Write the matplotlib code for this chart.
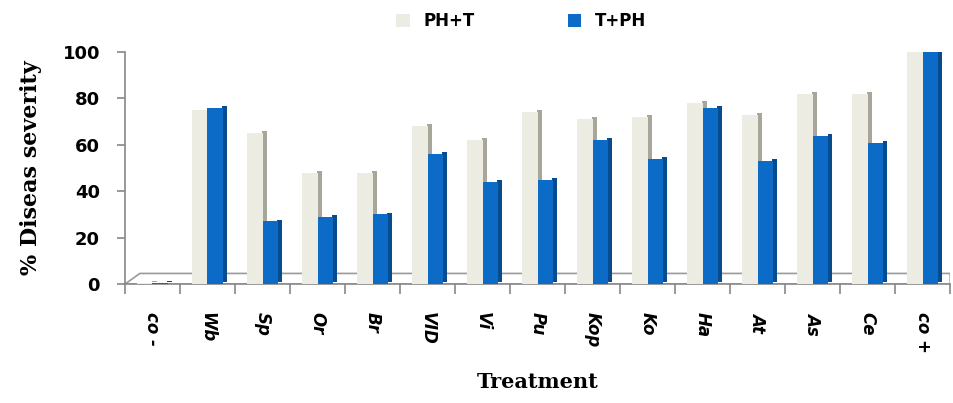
import numpy as np
import matplotlib
matplotlib.use('Agg')
from matplotlib import pyplot as plt
from matplotlib.patches import Polygon

treatments = ['co -', 'Wb', 'Sp', 'Or', 'Br', 'VID', 'Vi', 'Pu', 'Kop', 'Ko', 'Ha', 'At', 'As', 'Ce', 'co +']
ph_t = [0.5, 75, 65, 48, 48, 68, 62, 74, 71, 72, 78, 73, 82, 82, 100]
t_ph = [0.5, 76, 27, 29, 30, 56, 44, 45, 62, 54, 76, 53, 64, 61, 100]

# colours: front face / side face
c_ph = '#EDECE3'
c_ph_side = '#A8A599'
c_t = '#0B6BC6'
c_t_side = '#074C8F'

fig = plt.figure(figsize=(9.54, 4.03), dpi=100)
ax = fig.add_axes([0.131, 0.295, 0.865, 0.576])

x = np.arange(len(treatments))
w = 0.28
d = 0.09  # depth of side face
lift = 0.8  # side face shifted up a little (fake 3d)

# floor of the 3d plot
floor = Polygon([[-0.5, 0], [-0.23, 4.6], [len(x) - 0.5, 4.6], [len(x) - 0.5, 0]],
                closed=True, facecolor='white', edgecolor='#9A9A9A', lw=1.2, zorder=1)
ax.add_patch(floor)

# side faces first, then front faces
ax.bar(x + d / 2 - 0.01, ph_t, width=d, bottom=lift, color=c_ph_side, zorder=2)
ax.bar(x - w / 2, ph_t, width=w, color=c_ph, zorder=3)
ax.bar(x + w + d / 2 - 0.01, t_ph, width=d, bottom=lift, color=c_t_side, zorder=4)
ax.bar(x + w / 2, t_ph, width=w, color=c_t, zorder=5, label='T+PH')

# legend handles
ax.bar([0], [0], color=c_ph, label='PH+T')
h, l = ax.get_legend_handles_labels()
leg = ax.legend([h[1], h[0]], ['PH+T', 'T+PH'], loc='lower center', bbox_to_anchor=(0.48, 1.03),
                ncol=2, frameon=False, handlelength=0.8, handleheight=0.8, columnspacing=5.6,
                prop={'family': 'DejaVu Sans', 'weight': 'bold', 'size': 12})

ax.set_xlim(-0.5, len(x) - 0.5)
ax.set_ylim(0, 100)
ax.set_yticks([0, 20, 40, 60, 80, 100])
ax.tick_params(axis='y', labelsize=13, length=6, color='#888888', width=1.2, pad=12)
for t in ax.get_yticklabels():
    t.set_fontweight('bold')

ax.set_xticks(x)
ax.set_xticklabels(treatments, rotation=270, fontsize=12, fontweight='bold', style='italic')
ax.tick_params(axis='x', length=0, pad=20)
ax.set_xticks(np.arange(len(x) + 1) - 0.5, minor=True)
ax.tick_params(axis='x', which='minor', length=7, color='#888888', width=1.2)

for s in ['top', 'right']:
    ax.spines[s].set_visible(False)
for s in ['left', 'bottom']:
    ax.spines[s].set_color('#888888')
    ax.spines[s].set_linewidth(1.2)

ax.set_ylabel('% Diseas severity', fontsize=16, fontweight='bold', family='DejaVu Serif', labelpad=15)
ax.set_xlabel('Treatment', fontsize=15, fontweight='bold', family='DejaVu Serif', labelpad=14)

fig.savefig('out.png', dpi=100)
